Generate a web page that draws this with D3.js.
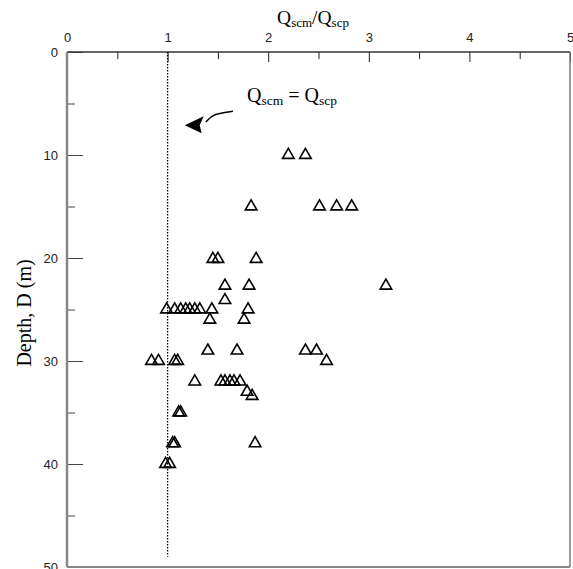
<!DOCTYPE html>
<html>
<head>
<meta charset="utf-8">
<script src="https://cdn.jsdelivr.net/npm/d3@7"></script>
<style>
  body { margin: 0; background: #fff; }
  .tick text { font-family: "Liberation Sans", Arial, sans-serif; font-size: 13px; fill: #222; }
  .serif { font-family: "Liberation Serif", "Times New Roman", serif; fill: #000; }
</style>
</head>
<body>
<svg id="chart" width="573" height="569"></svg>
<script>
// Measured points: depth (m) and ratio Qscm/Qscp
const depths = [
    10, 10,
    15, 15, 15, 15,
    20.1, 20.1, 20.1,
    22.7, 22.7, 22.7,
    24.1,
    25, 25, 25, 25, 25, 25, 25, 25, 25,
    26, 26,
    29, 29, 29, 29,
    30, 30, 30, 30, 30,
    32, 32, 32, 32, 32, 32,
    33, 33.4,
    35, 35,
    38, 38, 38,
    40, 40
];
const ratios = [
    2.20, 2.37,
    1.83, 2.51, 2.68, 2.83,
    1.45, 1.50, 1.88,
    1.57, 1.81, 3.17,
    1.57,
    0.99, 1.07, 1.13, 1.18, 1.22, 1.27, 1.32, 1.44, 1.80,
    1.42, 1.76,
    1.40, 1.69, 2.37, 2.48,
    0.84, 0.91, 1.07, 1.10, 2.58,
    1.27, 1.53, 1.57, 1.62, 1.66, 1.72,
    1.79, 1.84,
    1.11, 1.13,
    1.05, 1.07, 1.87,
    0.98, 1.02
];
const xMajor = [0, 1, 2, 3, 4, 5];
const xMinor = [0.5, 1.5, 2.5, 3.5, 4.5];
const yMajor = [0, 10, 20, 30, 40, 50];
const yMinor = [5, 15, 25, 35, 45];

// annotation (in data units)
const equalLineX = 1;
const equalLineDepth = [0, 49];
const noteText = { x: 1.79, depth: 4.9 };
const arrowPath = [[1.65, 5.75], [1.45, 6.0], [1.38, 6.8]];
const arrowTip = [1.17, 7.1];

let svg = d3.select("#chart");

//Scales:
let x = d3.scaleLinear().domain([0, 5]).range([67, 570]);
let y = d3.scaleLinear().domain([0, 50]).range([52, 567]);

//Top axis
svg.append("g")
    .attr("transform", `translate(0,${y(0)})`)
    .call(d3.axisTop(x).tickValues(xMajor).tickSize(-10).tickPadding(10).tickFormat(d3.format("d")))
    .call(g => g.select(".domain").remove())
    .call(g => g.selectAll("line").attr("stroke", "#222"));
svg.append("g")
    .attr("transform", `translate(0,${y(0)})`)
    .call(d3.axisTop(x).tickValues(xMinor).tickSize(-7).tickFormat(""))
    .call(g => g.select(".domain").remove())
    .call(g => g.selectAll("line").attr("stroke", "#222"));

//Left axis
svg.append("g")
    .attr("transform", `translate(${x(0)},0)`)
    .call(d3.axisLeft(y).tickValues(yMajor).tickSize(-16).tickPadding(9).tickFormat(d3.format("d")))
    .call(g => g.select(".domain").remove())
    .call(g => g.selectAll("line").attr("stroke", "#444"));
svg.append("g")
    .attr("transform", `translate(${x(0)},0)`)
    .call(d3.axisLeft(y).tickValues(yMinor).tickSize(-8).tickFormat(""))
    .call(g => g.select(".domain").remove())
    .call(g => g.selectAll("line").attr("stroke", "#444"));

//Frame
svg.append("line").attr("x1", x(0)).attr("x2", x(5)).attr("y1", y(0)).attr("y2", y(0))
    .attr("stroke", "#333").attr("stroke-width", 1.5);
svg.append("line").attr("x1", x(0)).attr("x2", x(0)).attr("y1", y(0)).attr("y2", y(50))
    .attr("stroke", "#888").attr("stroke-width", 2.5);
svg.append("line").attr("x1", x(5)).attr("x2", x(5)).attr("y1", y(0)).attr("y2", y(50))
    .attr("stroke", "#777").attr("stroke-width", 1.5);
svg.append("line").attr("x1", x(0)).attr("x2", x(5)).attr("y1", y(50)).attr("y2", y(50))
    .attr("stroke", "#888").attr("stroke-width", 2);

//Qscm = Qscp line
svg.append("line")
    .attr("x1", x(equalLineX)).attr("x2", x(equalLineX))
    .attr("y1", y(equalLineDepth[0])).attr("y2", y(equalLineDepth[1]))
    .attr("stroke", "#000").attr("stroke-width", 1.3)
    .attr("stroke-dasharray", "1.5,1.5");

//Points
svg.append("g").selectAll("path")
    .data(depths.map((d, i) => ({ depth: d, ratio: ratios[i] })))
    .join("path")
    .attr("transform", d => `translate(${x(d.ratio)},${y(d.depth)})`)
    .attr("d", d3.symbol(d3.symbolTriangle, 58))
    .attr("fill", "none")
    .attr("stroke", "#000")
    .attr("stroke-width", 1.6);

//Title: Qscm/Qscp
let title = svg.append("text").attr("class", "serif")
    .attr("x", 313).attr("y", 24)
    .attr("text-anchor", "middle").style("font-size", "19.5px");
title.append("tspan").text("Q");
title.append("tspan").attr("dy", 3).style("font-size", "13px").text("scm");
title.append("tspan").attr("dy", -3).text("/Q");
title.append("tspan").attr("dy", 3).style("font-size", "13px").text("scp");

//Y label
svg.append("text").attr("class", "serif")
    .attr("transform", "translate(31,313) rotate(-90)")
    .attr("text-anchor", "middle")
    .style("font-size", "20px")
    .text("Depth, D (m)");

//Annotation
let note = svg.append("text").attr("class", "serif")
    .attr("x", x(noteText.x)).attr("y", y(noteText.depth))
    .style("font-size", "20px");
note.append("tspan").text("Q");
note.append("tspan").attr("dy", 3).style("font-size", "13.5px").text("scm");
note.append("tspan").attr("dy", -3).text(" = Q");
note.append("tspan").attr("dy", 3).style("font-size", "13.5px").text("scp");

let curve = d3.line().x(d => x(d[0])).y(d => y(d[1])).curve(d3.curveBasis);
svg.append("path")
    .attr("d", curve(arrowPath))
    .attr("fill", "none").attr("stroke", "#000").attr("stroke-width", 1.5);

let tx = x(arrowTip[0]), ty = y(arrowTip[1]);
svg.append("path")
    .attr("d", `M${tx},${ty} L${tx + 19},${ty - 9} L${tx + 15},${ty} L${tx + 17},${ty + 8} Z`)
    .attr("fill", "#000");
</script>
</body>
</html>
